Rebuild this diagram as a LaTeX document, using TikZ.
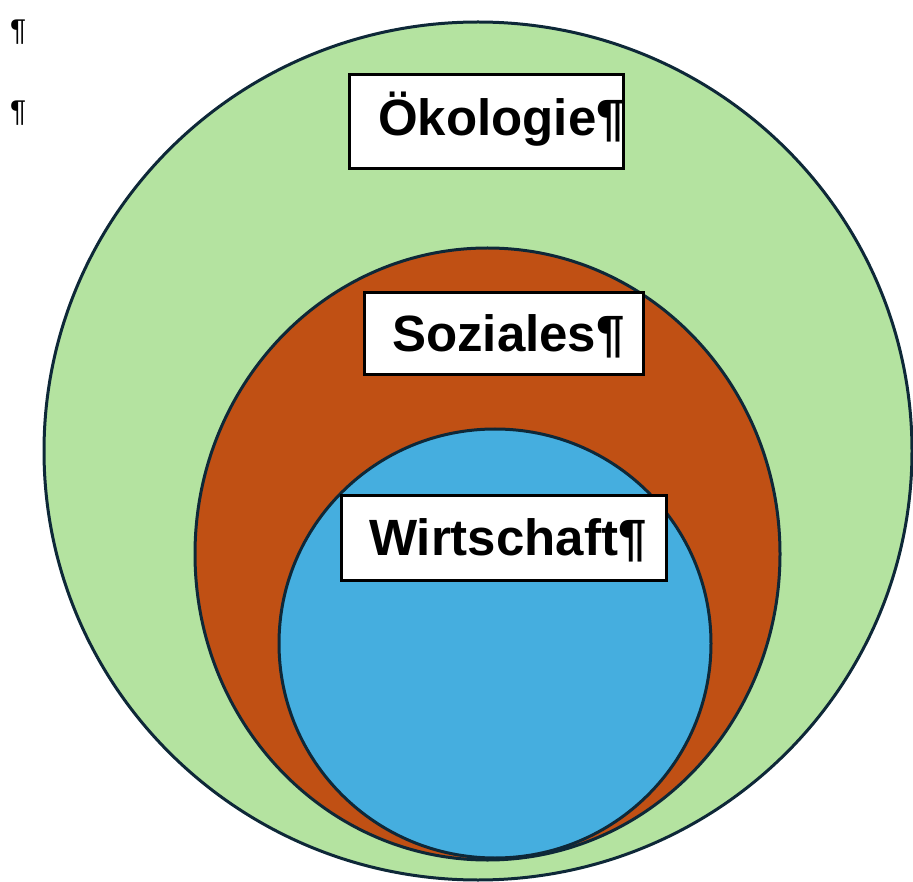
\documentclass[tikz,border=0pt]{standalone}
\usepackage{fontspec}
\setmainfont{Liberation Sans}
\definecolor{ecogreen}{RGB}{180,227,160}
\definecolor{socorange}{RGB}{192,80,20}
\definecolor{ecoblue}{RGB}{69,174,223}
\definecolor{rimnavy}{RGB}{14,40,56}
\tikzset{
  ring/.style={draw=rimnavy, line width=3pt},
  labelbox/.style={draw=black, fill=white, line width=3pt, inner sep=0pt},
  labeltext/.style={anchor=base west, inner sep=0pt, font=\fontsize{51}{60}\selectfont\bfseries},
  pilcrow/.style={anchor=base west, inner sep=0pt, font=\fontsize{30}{36}\selectfont}
}
\begin{document}
\begin{tikzpicture}[x=1pt,y=-1pt]
\useasboundingbox (0,0) rectangle (913,882);
\fill[white] (0,0) rectangle (913,882);
% circles
\draw[ring, fill=ecogreen] (478,451) ellipse [x radius=434, y radius=429];
\draw[ring, fill=socorange] (487.5,554) ellipse [x radius=292.5, y radius=306];
\draw[ring, fill=ecoblue] (495,643.5) ellipse [x radius=216, y radius=214.5];
% pilcrows
\node[pilcrow] (p1) at (10,41) {¶};
\node[pilcrow] (p2) at (10,122) {¶};
% label boxes
\node[labelbox, minimum width=274, minimum height=94] (okbox) at (486,122) {};
\node[labeltext] (oktext) at (378,136) {Ökologie¶};
\node[labelbox, minimum width=279, minimum height=82] (sozbox) at (503.5,334) {};
\node[labeltext] (soztext) at (392,352) {Soziales¶};
\node[labelbox, minimum width=325, minimum height=85] (wibox) at (503.5,537.5) {};
\node[labeltext] (witext) at (369,555) {Wirtschaft¶};
\end{tikzpicture}
\end{document}
